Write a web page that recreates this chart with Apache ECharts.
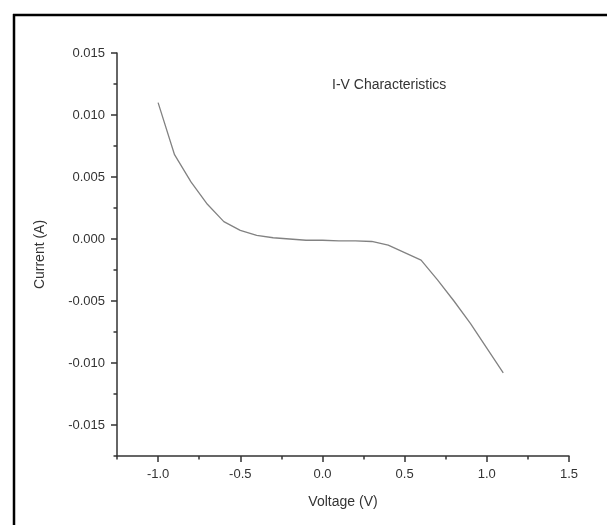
<!DOCTYPE html>
<html>
<head>
<meta charset="utf-8">
<script src="https://cdn.jsdelivr.net/npm/echarts@6/dist/echarts.min.js"></script>
<style>
  html, body { margin: 0; padding: 0; background: #fff; }
  #chart { width: 607px; height: 525px; }
</style>
</head>
<body>
<div id="chart"></div>
<script>
// voltage (V) and current (A)
const voltage = [-1.0, -0.9, -0.8, -0.7, -0.6, -0.5, -0.4, -0.3, -0.2, -0.1, 0.0,
                 0.1, 0.2, 0.3, 0.4, 0.5, 0.6, 0.7, 0.8, 0.9, 1.0, 1.1];
const current = [0.0110, 0.0068, 0.0046, 0.0028, 0.0014, 0.0007, 0.0003, 0.0001, 0.0000, -0.0001, -0.0001,
                 -0.00015, -0.00015, -0.0002, -0.0005, -0.0011, -0.0017, -0.0033, -0.0050, -0.0068, -0.0088, -0.0108];

const xMajor = [-1.0, -0.5, 0.0, 0.5, 1.0, 1.5];
const xMinor = [-1.25, -0.75, -0.25, 0.25, 0.75, 1.25];
const yMajor = [-0.015, -0.010, -0.005, 0.000, 0.005, 0.010, 0.015];
const yMinor = [-0.0175, -0.0125, -0.0075, -0.0025, 0.0025, 0.0075, 0.0125];

const axisColor = '#333';
const font = 'Liberation Sans, Arial, sans-serif';

const chart = echarts.init(document.getElementById('chart'));

function majorAxis(values, digits, extra) {
    return Object.assign({
        type: 'value',
        axisLine: { show: true, onZero: false, lineStyle: { color: axisColor, width: 1.5 } },
        axisTick: { show: true, customValues: values, length: 6, lineStyle: { color: axisColor, width: 1.5 } },
        axisLabel: {
            customValues: values,
            margin: 12,
            color: axisColor,
            fontSize: 13,
            fontFamily: font,
            formatter: v => v.toFixed(digits)
        },
        splitLine: { show: false },
        nameLocation: 'middle',
        nameTextStyle: { color: axisColor, fontSize: 14, fontFamily: font }
    }, extra);
}

// second axis on the same side, only for the short minor ticks
function minorAxis(values, extra) {
    return Object.assign({
        type: 'value',
        axisLine: { show: false, onZero: false },
        axisTick: { show: true, customValues: values, length: 3.5, lineStyle: { color: axisColor, width: 1.5 } },
        axisLabel: { show: false },
        splitLine: { show: false }
    }, extra);
}

chart.setOption({
    animation: false,
    backgroundColor: '#fff',
    title: {
        text: 'I-V Characteristics',
        left: 327,
        top: 73,
        textStyle: { color: axisColor, fontSize: 14, fontWeight: 'normal', fontFamily: font }
    },
    grid: { left: 117, right: 38, top: 53, bottom: 69 },
    xAxis: [
        majorAxis(xMajor, 1, { min: -1.25, max: 1.5, position: 'bottom', name: 'Voltage (V)', nameGap: 39 }),
        minorAxis(xMinor, { min: -1.25, max: 1.5, position: 'bottom' })
    ],
    yAxis: [
        majorAxis(yMajor, 3, { min: -0.0175, max: 0.015, position: 'left', name: 'Current (A)', nameGap: 70 }),
        minorAxis(yMinor, { min: -0.0175, max: 0.015, position: 'left' })
    ],
    graphic: [
        { type: 'line', shape: { x1: 13, y1: 15, x2: 607, y2: 15 }, style: { stroke: '#000', lineWidth: 2.5 } },
        { type: 'line', shape: { x1: 14, y1: 14, x2: 14, y2: 525 }, style: { stroke: '#000', lineWidth: 2.5 } }
    ],
    series: [{
        type: 'line',
        xAxisIndex: 0,
        yAxisIndex: 0,
        data: voltage.map((v, i) => [v, current[i]]),
        showSymbol: false,
        symbol: 'none',
        lineStyle: { color: '#828282', width: 1.3 }
    }]
});
</script>
</body>
</html>
